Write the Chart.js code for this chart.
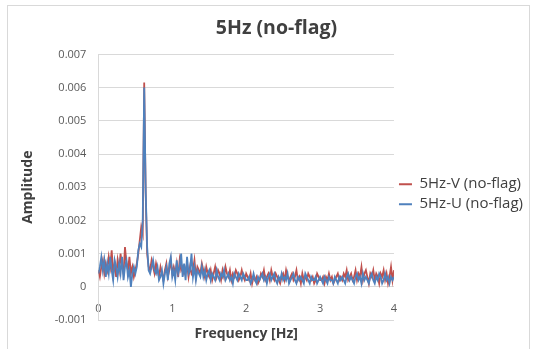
<!DOCTYPE html>
<html>
<head>
<meta charset="utf-8">
<script src="https://cdn.jsdelivr.net/npm/chart.js@4"></script>
<style>
  html, body { margin: 0; padding: 0; background: #fff; }
  #wrap { position: relative; width: 533px; height: 349px; }
  #frame { position: absolute; left: 7px; top: 5px; width: 523px; height: 345px; border: 1px solid #d9d9d9; box-sizing: border-box; }
</style>
</head>
<body>
<div id="wrap">
  <div id="frame"></div>
  <canvas id="chart" width="533" height="349"></canvas>
</div>
<script>
// frequency bins, 0 to 4 Hz every 0.02 Hz
const df = 0.02;
const freq = Array.from({ length: 201 }, (_, i) => +(i * df).toFixed(2));

// 5Hz-V (no-flag)
const amp_v = [
    0.0005, 0.0003, 0.0006, 0.0008, 0.0004, 0.0007, 0.0005, 0.0009, 0.0006, 0.0011,
    0.0004, 0.0007, 0.0003, 0.0008, 0.0005, 0.0010, 0.0006, 0.0004, 0.0012, 0.0007,
    0.0005, 0.0009, 0.0004, 0.0006, 0.0003, 0.0005, 0.0007, 0.0010, 0.0014, 0.0018,
    0.0016, 0.00615, 0.0028, 0.0010, 0.0006, 0.0005, 0.0008, 0.0006, 0.0004, 0.0007,
    0.0005, 0.0003, 0.0006, 0.0004, 0.0002, 0.0005, 0.0007, 0.0003, 0.0005, 0.0008,
    0.0004, 0.0006, 0.0004, 0.0007, 0.0003, 0.0008, 0.0005, 0.0006, 0.0004, 0.0005,
    0.0007, 0.0003, 0.0006, 0.0004, 0.0005, 0.0008, 0.0003, 0.0006, 0.0005, 0.0004,
    0.0007, 0.0005, 0.0003, 0.0006, 0.0004, 0.0003, 0.0005, 0.0002, 0.0004, 0.0006,
    0.0003, 0.0005, 0.0004, 0.0002, 0.0005, 0.0003, 0.0006, 0.0004, 0.0003, 0.0005,
    0.0002, 0.0004, 0.0003, 0.0005, 0.0004, 0.0002, 0.0003, 0.0005, 0.0003, 0.0002,
    0.0004, 0.0003, 0.0002, 0.0004, 0.0001, 0.0003, 0.0002, 0.0003, 0.0001, 0.0002,
    0.0004, 0.0003, 0.0005, 0.0002, 0.0003, 0.0004, 0.0002, 0.0005, 0.0003, 0.0002,
    0.0004, 0.0003, 0.0002, 0.0001, 0.0003, 0.0004, 0.0002, 0.0005, 0.0003, 0.0002,
    0.0003, 0.0004, 0.0002, 0.0003, 0.0005, 0.0002, 0.0003, 0.0001, 0.0004, 0.0002,
    0.0003, 0.0002, 0.0004, 0.0003, 0.0002, 0.0003, 0.0001, 0.0002, 0.0004, 0.0003,
    0.0002, 0.0002, 0.0003, 0.0001, 0.0003, 0.0002, 0.0004, 0.0002, 0.0003, 0.0001,
    0.0002, 0.0003, 0.0004, 0.0002, 0.0003, 0.0002, 0.0004, 0.0003, 0.0005, 0.0002,
    0.0003, 0.0004, 0.0002, 0.0003, 0.0005, 0.0002, 0.0004, 0.0003, 0.0006, 0.0002,
    0.0004, 0.0005, 0.0003, 0.0001, 0.0004, 0.0003, 0.0005, 0.0002, 0.0004, 0.0003,
    0.0001, 0.0004, 0.0003, 0.0005, 0.0002, 0.0004, 0.0001, 0.0003, 0.0006, 0.0002,
    0.0005
];

// 5Hz-U (no-flag)
const amp_u = [
    0.0004, 0.0006, 0.0009, 0.0005, 0.0008, 0.0003, 0.0007, 0.0004, 0.0009, 0.0005,
    0.0002, 0.0008, 0.0006, 0.0003, 0.0007, 0.0004, 0.0009, 0.0002, 0.0006, 0.0008,
    0.0003, 0.0005, 0.0000, 0.0004, 0.0006, 0.0004, 0.0006, 0.0011, 0.0013, 0.0012,
    0.0020, 0.0060, 0.0029, 0.0012, 0.0005, 0.0004, 0.0006, 0.0008, 0.0005, 0.0004,
    0.0006, 0.0002, 0.0003, 0.0005, 0.0001, 0.0004, 0.0006, 0.0002, 0.0007, 0.0009,
    0.0003, 0.0005, 0.0002, 0.0008, 0.0004, 0.0006, 0.0010, 0.0003, 0.0007, 0.0002,
    0.0009, 0.0004, 0.0005, 0.0010, 0.0003, 0.0006, 0.0002, 0.0005, 0.0004, 0.0003,
    0.0006, 0.0003, 0.0005, 0.0002, 0.0004, 0.0005, 0.0002, 0.0004, 0.0003, 0.0002,
    0.0005, 0.0003, 0.0002, 0.0004, 0.0003, 0.0005, 0.0002, 0.0003, 0.0004, 0.0002,
    0.0003, 0.0001, 0.0004, 0.0003, 0.0002, 0.0004, 0.0003, 0.0002, 0.0004, 0.0003,
    0.0002, 0.0002, 0.0003, 0.0001, 0.0002, 0.0004, 0.0002, 0.0001, 0.0003, 0.0002,
    0.0003, 0.0004, 0.0002, 0.0003, 0.0001, 0.0003, 0.0004, 0.0002, 0.0003, 0.0004,
    0.0002, 0.0001, 0.0003, 0.0002, 0.0004, 0.0002, 0.0003, 0.0002, 0.0004, 0.0001,
    0.0002, 0.0003, 0.0004, 0.0002, 0.0001, 0.0003, 0.0002, 0.0003, 0.0002, 0.0001,
    0.0004, 0.0003, 0.0002, 0.0001, 0.0003, 0.0002, 0.0002, 0.0003, 0.0001, 0.0002,
    0.0003, 0.0002, 0.0001, 0.0003, 0.0002, 0.0001, 0.0003, 0.0002, 0.0002, 0.0001,
    0.0003, 0.0002, 0.0001, 0.0003, 0.0002, 0.0003, 0.0002, 0.0001, 0.0003, 0.0004,
    0.0002, 0.0003, 0.0002, 0.0001, 0.0003, 0.0004, 0.0002, 0.0003, 0.0001, 0.0004,
    0.0002, 0.0003, 0.0002, 0.0001, 0.0003, 0.0004, 0.0002, 0.0001, 0.0003, 0.0002,
    0.0004, 0.0003, 0.0001, 0.0002, 0.0004, 0.0002, 0.0003, 0.0001, 0.0003, 0.0002,
    0.0003
];

const x_ticks = [0, 1, 2, 3, 4];
const y_min = -0.001;
const y_max = 0.007;

const red = '#c0504d';
const blue = '#4f81bd';
const text_col = '#595959';
const grid_col = '#d9d9d9';
const font_family = '"Open Sans", sans-serif';

function points(values) {
    return freq.map((f, i) => ({ x: f, y: values[i] }));
}

// thin line markers in the legend, no outline
function legend_items(chart) {
    let items = Chart.defaults.plugins.legend.labels.generateLabels(chart);
    items.forEach(item => { item.lineWidth = 0; });
    return items.sort((a, b) => a.datasetIndex - b.datasetIndex);
}

let chart = new Chart(document.getElementById('chart'), {
    type: 'line',
    data: {
        datasets: [{
                label: '5Hz-V (no-flag)',
                data: points(amp_v),
                borderColor: red,
                backgroundColor: red,
                borderWidth: 1.8,
                pointRadius: 0,
                order: 1
            },
            {
                label: '5Hz-U (no-flag)',
                data: points(amp_u),
                borderColor: blue,
                backgroundColor: blue,
                borderWidth: 1.8,
                pointRadius: 0,
                order: 0
            }
        ]
    },
    options: {
        responsive: false,
        animation: false,
        layout: {
            padding: { left: 20, right: 0, top: 7, bottom: 29 }
        },
        plugins: {
            title: {
                display: true,
                text: '5Hz (no-flag)',
                color: '#404040',
                font: { family: font_family, size: 19.5, weight: 'bold' },
                padding: { top: 10, bottom: 14 }
            },
            legend: {
                position: 'right',
                fullSize: false,
                maxWidth: 160,
                title: {
                    display: true,
                    text: ' ',
                    font: { size: 10 },
                    padding: { top: 0, bottom: 2 }
                },
                labels: {
                    color: '#404040',
                    font: { family: font_family, size: 15 },
                    boxWidth: 13,
                    boxHeight: 2,
                    padding: 5,
                    generateLabels: legend_items
                }
            },
            tooltip: { enabled: false }
        },
        scales: {
            x: {
                type: 'linear',
                position: { y: 0 },
                min: 0,
                max: 4,
                afterBuildTicks: (axis) => {
                    axis.ticks = x_ticks.map(v => ({ value: v }));
                },
                grid: { display: false, drawTicks: false },
                border: { display: false },
                ticks: {
                    color: text_col,
                    font: { family: font_family, size: 11 },
                    padding: 15,
                    maxRotation: 0
                },
                title: {
                    display: true,
                    text: 'Frequency [Hz]',
                    color: '#404040',
                    font: { family: font_family, size: 14, weight: 'bold', lineHeight: 1 },
                    padding: { top: -3, bottom: 0 }
                }
            },
            y: {
                min: y_min,
                max: y_max,
                ticks: {
                    stepSize: 0.001,
                    color: text_col,
                    font: { family: font_family, size: 11 },
                    padding: 12,
                    callback: (v) => +v.toFixed(3)
                },
                grid: { color: grid_col, drawTicks: false },
                border: { color: grid_col },
                title: {
                    display: true,
                    text: 'Amplitude',
                    color: '#404040',
                    font: { family: font_family, size: 14, weight: 'bold' },
                    padding: { top: 0, bottom: 6 }
                }
            }
        }
    }
});
</script>
</body>
</html>
